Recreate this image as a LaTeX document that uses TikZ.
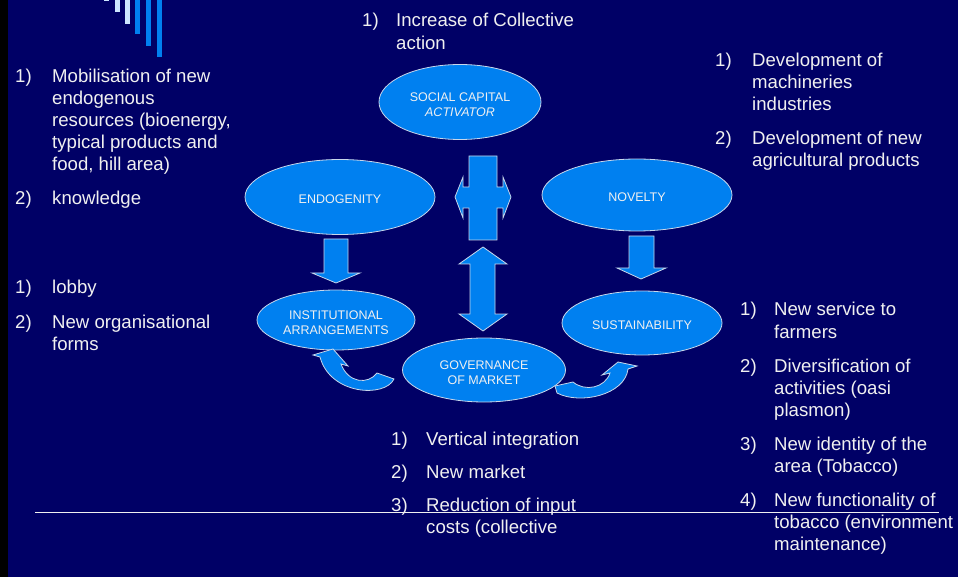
\documentclass[tikz,border=0pt]{standalone}
\usepackage{fontspec}
\setmainfont{Liberation Sans}
\usetikzlibrary{shapes.geometric}
\definecolor{navy}{RGB}{0,0,102}
\definecolor{bblue}{RGB}{0,128,240}
\definecolor{pale}{RGB}{204,230,255}
\definecolor{edgec}{RGB}{200,215,235}
\definecolor{txt}{RGB}{240,240,240}
\newcommand\txtline[4]{\node[lt] (#1) at (#2,#3) {#4};}
\begin{document}
\begin{tikzpicture}[x=1pt,y=-1pt,
 oval/.style={ellipse,fill=bblue,draw=edgec,line width=0.8pt,inner sep=0pt},
 ovaltext/.style={inner sep=0pt,text=txt,font=\fontsize{12.5}{15}\selectfont,align=center,yshift=-2.5pt},
 blockarrow/.style={fill=bblue,draw=edgec,line width=0.8pt,line join=miter},
 lt/.style={anchor=base west,inner sep=0pt,text=txt,font=\fontsize{18.6}{22}\selectfont,yshift=-2pt}]
\fill[navy] (0,0) rectangle (958,577);
\fill[black] (0,0) rectangle (8,577);
\useasboundingbox (0,0) rectangle (958,577);
% decorative bars
\fill[pale] (104,0) rectangle (109,1);
\fill[pale] (115,0) rectangle (120,12);
\fill[pale] (125,0) rectangle (130,24);
\fill[bblue] (135,0) rectangle (140,34);
\fill[bblue] (146,0) rectangle (151,46);
\fill[bblue] (157,0) rectangle (162,57);
% ellipses
\node[oval,minimum width=162pt,minimum height=75pt] (social) at (460,102) {};
\node[oval,minimum width=190pt,minimum height=75pt] (endo) at (340,197) {};
\node[oval,minimum width=190pt,minimum height=72pt] (novel) at (637,195) {};
\node[oval,minimum width=158pt,minimum height=60pt] (inst) at (336,320) {};
\node[oval,minimum width=163pt,minimum height=64pt] (gov) at (484,370) {};
\node[oval,minimum width=160pt,minimum height=64pt] (sust) at (642,323) {};
\node[ovaltext] (socialT) at (social.center) {SOCIAL CAPITAL\\\textit{ACTIVATOR}};
\node[ovaltext] (endoT) at (endo.center) {ENDOGENITY};
\node[ovaltext] (novelT) at (novel.center) {NOVELTY};
\node[ovaltext] (instT) at (inst.center) {INSTITUTIONAL\\ARRANGEMENTS};
\node[ovaltext] (govT) at (gov.center) {GOVERNANCE\\OF MARKET};
\node[ovaltext] (sustT) at (sust.center) {SUSTAINABILITY};
% block arrows
\draw[blockarrow] (324,239) -- (348,239) -- (348,273) -- (360,273) -- (336,283) -- (312,273) -- (324,273) -- cycle;
\draw[blockarrow] (629,236) -- (654,236) -- (654,268) -- (666,268) -- (641,279) -- (617,268) -- (629,268) -- cycle;
\draw[blockarrow] (469,156) -- (497,156) -- (497,187) -- (503,187) -- (503,177) -- (511,197) -- (503,218) -- (503,208) -- (497,208) -- (497,240) -- (469,240) -- (469,208) -- (463,208) -- (463,218) -- (455,197) -- (463,177) -- (463,187) -- (469,187) -- cycle;
\draw[blockarrow] (483,247) -- (507,264) -- (495,264) -- (495,314) -- (507,314) -- (483,331) -- (459,314) -- (470,314) -- (470,264) -- (459,264) -- cycle;
% curved arrows
\draw[blockarrow] (313,355) -- (333,349) -- (348,366) -- (341,364) .. controls (348,383) and (368,385) .. (377,373) -- (394,379) .. controls (385,398) and (330,395) .. (320,357) -- cycle;
\draw[blockarrow] (555,386) -- (573,382) .. controls (585,392) and (605,388) .. (610,373) -- (602,375) -- (618,362) -- (637,366) -- (628,369) .. controls (625,395) and (580,405) .. (557,393) -- cycle;
% horizontal rule
\coordinate (hlA) at (35,512);
\coordinate (hlB) at (939,512);
\draw[txt,line width=1pt] (hlA) -- (hlB);
% top centre
\txtline{tcn}{362}{25}{1)}
\txtline{tc1}{396}{25}{Increase of Collective}
\txtline{tc2}{396}{48}{action}
% left upper
\txtline{lun1}{15}{81}{1)}
\txtline{lu1}{52}{81}{Mobilisation of new}
\txtline{lu2}{52}{103}{endogenous}
\txtline{lu3}{52}{125}{resources (bioenergy,}
\txtline{lu4}{52}{147}{typical products and}
\txtline{lu5}{52}{169}{food, hill area)}
\txtline{lun2}{15}{203}{2)}
\txtline{lu6}{52}{203}{knowledge}
% left lower
\txtline{lln1}{15}{292}{1)}
\txtline{ll1}{52}{292}{lobby}
\txtline{lln2}{15}{326}{2)}
\txtline{ll2}{52}{326}{New organisational}
\txtline{ll3}{52}{348}{forms}
% right upper
\txtline{run1}{715}{65}{1)}
\txtline{ru1}{752}{65}{Development of}
\txtline{ru2}{752}{87}{machineries}
\txtline{ru3}{752}{109}{industries}
\txtline{run2}{715}{143}{2)}
\txtline{ru4}{752}{143}{Development of new}
\txtline{ru5}{752}{165}{agricultural products}
% right lower
\txtline{rln1}{740}{314}{1)}
\txtline{rl1}{774}{314}{New service to}
\txtline{rl2}{774}{336}{farmers}
\txtline{rln2}{740}{370}{2)}
\txtline{rl3}{774}{370}{Diversification of}
\txtline{rl4}{774}{392}{activities (oasi}
\txtline{rl5}{774}{414}{plasmon)}
\txtline{rln3}{740}{448}{3)}
\txtline{rl6}{774}{448}{New identity of the}
\txtline{rl7}{774}{470}{area (Tobacco)}
\txtline{rln4}{740}{504}{4)}
\txtline{rl8}{774}{504}{New functionality of}
\txtline{rl9}{774}{526}{tobacco (environment}
\txtline{rl10}{774}{548}{maintenance)}
% bottom centre
\txtline{bcn1}{391}{443}{1)}
\txtline{bc1}{426}{443}{Vertical integration}
\txtline{bcn2}{391}{476}{2)}
\txtline{bc2}{426}{476}{New market}
\txtline{bcn3}{391}{509}{3)}
\txtline{bc3}{426}{509}{Reduction of input}
\txtline{bc4}{426}{531}{costs (collective}
\end{tikzpicture}
\end{document}
